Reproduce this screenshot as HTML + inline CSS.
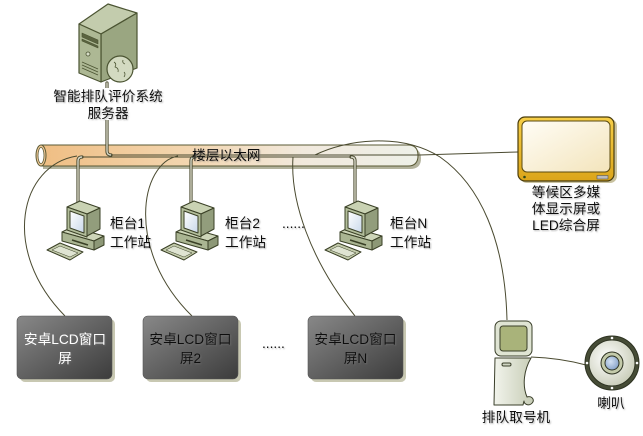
<!DOCTYPE html>
<html><head><meta charset="utf-8">
<style>
html,body{margin:0;padding:0;background:#fff;}
svg{display:block;}
text{font-family:"Liberation Sans","Noto Sans CJK SC",sans-serif;font-size:13.7px;fill:#111;}
</style></head><body>
<svg width="643" height="436" viewBox="0 0 643 436" xmlns="http://www.w3.org/2000/svg">
<defs>
 <filter id="ts" x="-10%" y="-30%" width="130%" height="170%">
  <feDropShadow dx="1" dy="1" stdDeviation="0.7" flood-color="#777" flood-opacity="0.55"/>
 </filter>
 <linearGradient id="pipe" x1="36" y1="0" x2="418" y2="0" gradientUnits="userSpaceOnUse">
  <stop offset="0" stop-color="#efbd82"/>
  <stop offset="0.4" stop-color="#f3d6b0"/>
  <stop offset="0.7" stop-color="#f1e9dd"/>
  <stop offset="1" stop-color="#eef0e8"/>
 </linearGradient>
 <linearGradient id="box" x1="0" y1="0" x2="1" y2="1">
  <stop offset="0" stop-color="#888"/>
  <stop offset="1" stop-color="#3c3c3c"/>
 </linearGradient>
 <linearGradient id="yel" x1="0" y1="0" x2="0" y2="1">
  <stop offset="0" stop-color="#f7cf48"/>
  <stop offset="1" stop-color="#dba51a"/>
 </linearGradient>
 <linearGradient id="cream" x1="0" y1="0" x2="1" y2="1">
  <stop offset="0" stop-color="#fffdf6"/>
  <stop offset="1" stop-color="#f3e4bb"/>
 </linearGradient>
 <linearGradient id="kio" x1="0" y1="0" x2="1" y2="0">
  <stop offset="0" stop-color="#f2f4ec"/>
  <stop offset="1" stop-color="#c6ccb5"/>
 </linearGradient>
 <radialGradient id="spk" cx="0.4" cy="0.4" r="0.7">
  <stop offset="0" stop-color="#ffffff"/>
  <stop offset="1" stop-color="#c4c8b2"/>
 </radialGradient>
 <radialGradient id="blue" cx="0.4" cy="0.4" r="0.7">
  <stop offset="0" stop-color="#d4e2f4"/>
  <stop offset="1" stop-color="#7f9cc4"/>
 </radialGradient>
 <linearGradient id="scr" x1="0" y1="0" x2="1" y2="1">
  <stop offset="0" stop-color="#ffffff"/>
  <stop offset="1" stop-color="#c9d8ea"/>
 </linearGradient>
 <g id="pc" stroke="#3a4026" stroke-width="1" stroke-linejoin="round">
  <polygon points="62,232 72,227 104,236 94,241" fill="#cdd5b8"/>
  <polygon points="62,232 94,241 94,250 62,241" fill="#aab592"/>
  <polygon points="94,241 104,236 104,245 94,250" fill="#8d9877"/>
  <line x1="72" y1="240" x2="88" y2="245" stroke-width="1.5"/>
  <polygon points="67,207 80,201 100,208 87,214" fill="#c9d2b3"/>
  <polygon points="87,214 100,208 100,229 87,236" fill="#929d7c"/>
  <polygon points="67,207 87,214 87,237 67,230" fill="#b3be9b"/>
  <polygon points="70,211 84,216 84,233 70,228" fill="url(#scr)"/>
  <polygon points="47,250 60,243 83,252 70,260" fill="#c3cbab"/>
  <polygon points="52,250 60,246 78,253 70,257" fill="#dfe4d2" stroke-width="0.5"/>
 </g>
</defs>

<!-- server -->
<g stroke="#4b5432" stroke-width="1.2" stroke-linejoin="round">
 <polygon points="79,24 108,4 137,13 101,34" fill="#c3ccad"/>
 <polygon points="101,34 137,13 137,68 101,82" fill="#9aa681"/>
 <polygon points="79,24 101,34 101,82 79,73" fill="#adb894"/>
 <polygon points="82,33 98,40 98,44 82,37" fill="#5a6340" stroke-width="0.6"/>
 <polygon points="82,39 98,46 98,48 82,41" fill="#5a6340" stroke-width="0.6"/>
 <circle cx="88" cy="54" r="2" fill="#d6dcc6" stroke-width="0.8"/>
 <line x1="82" y1="62" x2="98" y2="69" stroke-width="0.8"/>
 <line x1="82" y1="65" x2="98" y2="72" stroke-width="0.8"/>
 <line x1="82" y1="68" x2="98" y2="75" stroke-width="0.8"/>
 <circle cx="120" cy="69" r="13" fill="#d3dac1"/>
 <path d="M114,62 q3,2 1,5 q4,1 3,5 M123,60 q-1,3 2,4 M124,72 q2,2 0,5" fill="none" stroke-width="0.8"/>
</g>

<!-- pipe -->
<path d="M43,148 H410 Q421,148 421,158.5 Q421,169 410,169 H43 Z" fill="#b3b39d"/>
<path d="M41,145 H408 Q418,145 418,155.5 Q418,166 408,166 H41 Z" fill="url(#pipe)" stroke="#5a5a35" stroke-width="1"/>
<ellipse cx="41" cy="155.5" rx="5" ry="10.5" fill="#f0c795" stroke="#5a5a35" stroke-width="1"/>
<ellipse cx="41" cy="155.5" rx="3" ry="8" fill="#ffffff" stroke="#5a5a35" stroke-width="0.8"/>

<!-- connectors: doubled vertical -->
<g fill="none" stroke-linecap="round">
 <path d="M107,83 V151 Q107,155 111,155" stroke="#4a4a30" stroke-width="3.2"/>
 <path d="M107,83 V151 Q107,155 111,155" stroke="#d6d6c6" stroke-width="1.4"/>
 <path d="M78,204 V161 Q78,157 82,157" stroke="#4a4a30" stroke-width="3.2"/>
 <path d="M78,204 V161 Q78,157 82,157" stroke="#d6d6c6" stroke-width="1.4"/>
 <path d="M191,204 V161 Q191,157 195,157" stroke="#4a4a30" stroke-width="3.2"/>
 <path d="M191,204 V161 Q191,157 195,157" stroke="#d6d6c6" stroke-width="1.4"/>
 <path d="M355,204 V161 Q355,157 351,157" stroke="#4a4a30" stroke-width="3.2"/>
 <path d="M355,204 V161 Q355,157 351,157" stroke="#d6d6c6" stroke-width="1.4"/>
</g>
<rect x="98" y="88" width="19" height="32" fill="#ffffff"/>
<g fill="none" stroke="#4a4a30" stroke-width="1">
 <path d="M111,155 H420 L518,152"/>
 <path d="M82,157 H351"/>
 <path d="M77,156 C20,165 0,250 65,316"/>
 <path d="M178,156 C140,163 125,250 192,316"/>
 <path d="M293,157 C290,200 310,260 355,316"/>
 <path d="M315,155 C345,140 400,132 440,157 C480,185 505,240 507,320"/>
 <path d="M531,357 Q560,358 586,365"/>
</g>

<!-- computers -->
<use href="#pc"/>
<use href="#pc" transform="translate(114,0)"/>
<use href="#pc" transform="translate(278,0)"/>

<!-- LCD boxes -->
<rect x="20" y="319" width="95" height="63" rx="5" fill="#c8c8b2"/>
<rect x="17" y="316" width="95" height="63" rx="5" fill="url(#box)" stroke="#555" stroke-width="0.6"/>
<rect x="146" y="319" width="95" height="63" rx="5" fill="#c8c8b2"/>
<rect x="143" y="316" width="95" height="63" rx="5" fill="url(#box)" stroke="#555" stroke-width="0.6"/>
<rect x="311" y="319" width="95" height="63" rx="5" fill="#c8c8b2"/>
<rect x="308" y="316" width="95" height="63" rx="5" fill="url(#box)" stroke="#555" stroke-width="0.6"/>

<!-- LED display -->
<rect x="520" y="119" width="97" height="64" rx="7" fill="#c9c2a0"/>
<rect x="518" y="117" width="96" height="64" rx="7" fill="url(#yel)" stroke="#4a3c0a" stroke-width="1.2"/>
<rect x="522" y="121" width="88" height="51" rx="5" fill="url(#cream)" stroke="#5a4a10" stroke-width="1"/>
<circle cx="524.5" cy="177" r="1.3" fill="#2f4a1a"/>
<rect x="597" y="175.5" width="11" height="3.5" fill="#bcbcbc" stroke="#555" stroke-width="0.6"/>

<!-- kiosk -->
<g stroke="#3a3f2a" stroke-width="1" stroke-linejoin="round">
 <path d="M495,358 H531 C524,370 522,385 527,397 C532,395 536,401 531,404 C528,406 524,404 524,401 L523,405 H494 Z" fill="url(#kio)"/>
 <rect x="502" y="363" width="9" height="3" rx="1.5" fill="#cfd4c2"/>
 <rect x="495" y="321" width="37" height="35" rx="6" fill="#dfe4d3"/>
 <rect x="500" y="326" width="27" height="25" rx="3" fill="#a9b37a"/>
</g>

<!-- speaker -->
<g stroke="#2e3322" stroke-width="1">
 <circle cx="612" cy="363" r="27" fill="#464c36"/>
 <circle cx="612" cy="363" r="23" fill="url(#spk)"/>
 <circle cx="612" cy="363" r="11" fill="#c3caaa"/>
 <circle cx="612" cy="363" r="7" fill="url(#blue)"/>
</g>
<g fill="#ffffff">
 <circle cx="612" cy="338" r="1.3"/><circle cx="612" cy="388" r="1.3"/>
 <circle cx="587" cy="363" r="1.3"/><circle cx="637" cy="363" r="1.3"/>
</g>

<!-- labels -->
<g filter="url(#ts)">
 <text x="108" y="101" text-anchor="middle">智能排队评价系统</text>
 <text x="108" y="118" text-anchor="middle">服务器</text>
 <text x="192" y="160">楼层以太网</text>
 <text x="110" y="228">柜台1</text>
 <text x="110" y="247">工作站</text>
 <text x="225" y="228">柜台2</text>
 <text x="225" y="247">工作站</text>
 <text x="390" y="228">柜台N</text>
 <text x="390" y="247">工作站</text>
 <text x="282" y="228">......</text>
 <text x="566" y="197" text-anchor="middle">等候区多媒</text>
 <text x="566" y="213.5" text-anchor="middle">体显示屏或</text>
 <text x="566" y="230" text-anchor="middle">LED综合屏</text>
 <text x="65" y="344" text-anchor="middle" style="fill:#fff">安卓LCD窗口</text>
 <text x="65" y="363" text-anchor="middle" style="fill:#fff">屏</text>
 <text x="190.5" y="344" text-anchor="middle">安卓LCD窗口</text>
 <text x="190.5" y="363" text-anchor="middle">屏2</text>
 <text x="355.5" y="344" text-anchor="middle">安卓LCD窗口</text>
 <text x="355.5" y="363" text-anchor="middle">屏N</text>
 <text x="262" y="348">......</text>
 <text x="516" y="422" text-anchor="middle">排队取号机</text>
 <text x="611" y="408" text-anchor="middle">喇叭</text>
</g>
</svg>
</body></html>
